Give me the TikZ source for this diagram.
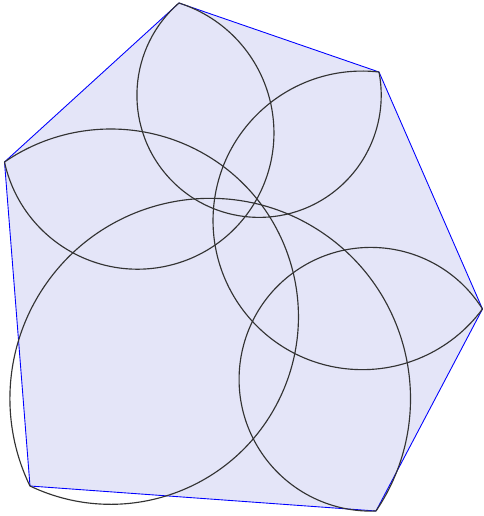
\documentclass[tikz,border=0pt]{standalone}
\definecolor{hexfill}{RGB}{228,229,248}
\begin{document}
\begin{tikzpicture}[line width=0.5pt]
  \useasboundingbox (0,0) rectangle (9.68,-10.32);
  \coordinate (A) at (3.58,-0.06); \coordinate (B) at (7.58,-1.44); \coordinate (C) at (9.65,-6.18);
  \coordinate (D) at (7.52,-10.22); \coordinate (E) at (0.6,-9.72); \coordinate (F) at (0.09,-3.24);
  \filldraw[fill=hexfill, draw=blue] (A) -- (B) -- (C) -- (D) -- (E) -- (F) -- cycle;
  % 각 변 위의 호 (원주각 60도)
  \draw[black!80, line width=0.65pt] (A) arc[start angle=130.96, end angle=370.96, radius=2.443];
  \draw[black!80, line width=0.65pt] (B) arc[start angle=83.59, end angle=323.59, radius=2.986];
  \draw[black!80, line width=0.65pt] (C) arc[start angle=32.20, end angle=272.20, radius=2.637];
  \draw[black!80, line width=0.65pt] (D) arc[start angle=-34.13, end angle=205.87, radius=4.006];
  \draw[black!80, line width=0.65pt] (E) arc[start angle=-115.50, end angle=124.50, radius=3.753];
  \draw[black!80, line width=0.65pt] (F) arc[start angle=192.34, end angle=432.34, radius=2.726];
\end{tikzpicture}
\end{document}
